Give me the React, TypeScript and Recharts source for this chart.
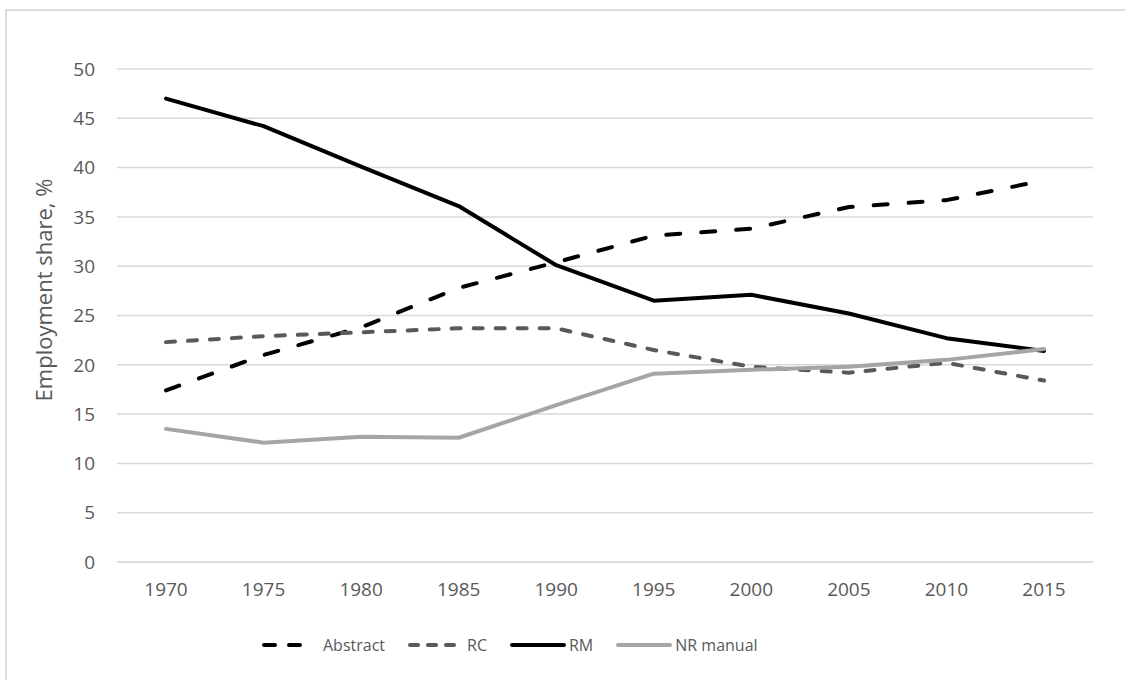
import { LineChart, Line, XAxis, YAxis, CartesianGrid } from 'recharts'

const years = ['1970', '1975', '1980', '1985', '1990', '1995', '2000', '2005', '2010', '2015']
const abstract = [17.4, 21.0, 23.8, 27.8, 30.4, 33.1, 33.8, 36.0, 36.7, 38.7]
const rc = [22.3, 22.9, 23.3, 23.7, 23.7, 21.5, 19.8, 19.2, 20.2, 18.4]
const rm = [47.0, 44.2, 40.1, 36.1, 30.1, 26.5, 27.1, 25.2, 22.7, 21.4]
const nrManual = [13.5, 12.1, 12.7, 12.6, 15.9, 19.1, 19.5, 19.8, 20.5, 21.6]
const yTicks = [0, 5, 10, 15, 20, 25, 30, 35, 40, 45, 50]

const data = years.map((year, i) => ({
  year,
  abstract: abstract[i],
  rc: rc[i],
  rm: rm[i],
  nrManual: nrManual[i],
}))

const SERIES = [
  { key: 'abstract', name: 'Abstract', color: '#000000', dash: '14 21' },
  { key: 'rc', name: 'RC', color: '#595959', dash: '9 13' },
  { key: 'rm', name: 'RM', color: '#000000', dash: undefined },
  { key: 'nrManual', name: 'NR manual', color: '#a5a5a5', dash: undefined },
]

const FONT = '"Open Sans", "Noto Sans", sans-serif'
const TEXT = '#595959'
const GRID = '#d9d9d9'

function ChartLegend() {
  return (
    <div
      style={{
        position: 'absolute',
        left: 261,
        top: 632,
        display: 'flex',
        alignItems: 'center',
        fontFamily: FONT,
        fontSize: 16,
        color: TEXT,
        whiteSpace: 'nowrap',
      }}
    >
      {SERIES.map((s, i) => (
        <div key={s.key} style={{ display: 'flex', alignItems: 'center', marginLeft: i === 0 ? 0 : 22 }}>
          <svg width={58} height={26}>
            <line
              x1={3}
              y1={13}
              x2={s.key === 'abstract' ? 44 : 55}
              y2={13}
              stroke={s.color}
              strokeWidth={4}
              strokeLinecap="round"
              strokeDasharray={s.key === 'abstract' ? '11 14' : s.dash ? '8 10' : undefined}
            />
          </svg>
          <span style={{ marginLeft: s.key === 'abstract' ? 4 : 2 }}>{s.name}</span>
        </div>
      ))}
    </div>
  )
}

export default function App() {
  return (
    <div
      style={{
        position: 'absolute',
        left: 0,
        top: 0,
        width: 1125,
        height: 680,
        overflow: 'hidden',
        background: '#ffffff',
      }}
    >
      <div
        style={{
          position: 'absolute',
          left: 5,
          top: 9,
          width: 1200,
          height: 720,
          border: '2px solid #dcdcdc',
        }}
      />
      <LineChart
        width={1125}
        height={680}
        data={data}
        margin={{ top: 69, right: 32, bottom: 88, left: 0 }}
        style={{ position: 'absolute', left: 0, top: 0 }}
      >
        <CartesianGrid vertical={false} stroke={GRID} strokeWidth={1.5} />
        <XAxis
          dataKey="year"
          height={30}
          padding={{ left: 49, right: 49 }}
          axisLine={{ stroke: GRID, strokeWidth: 1.5 }}
          tickLine={false}
          tickMargin={15}
          tick={{ fill: TEXT, fontSize: 19, fontFamily: FONT }}
        />
        <YAxis
          width={117}
          domain={[0, 50]}
          ticks={yTicks}
          interval={0}
          axisLine={false}
          tickLine={false}
          tickMargin={16}
          tick={{ fill: TEXT, fontSize: 19, fontFamily: FONT }}
          label={{
            content: () => (
              <text
                x={43}
                y={290}
                transform="rotate(-90 43 290)"
                textAnchor="middle"
                dominantBaseline="central"
                fill={TEXT}
                fontSize={22}
                fontFamily={FONT}
              >
                Employment share, %
              </text>
            ),
          }}
        />
        {SERIES.map((s) => (
          <Line
            key={s.key}
            type="linear"
            dataKey={s.key}
            name={s.name}
            stroke={s.color}
            strokeWidth={4}
            strokeDasharray={s.dash}
            strokeLinecap="round"
            strokeLinejoin="round"
            dot={false}
            activeDot={false}
            isAnimationActive={false}
          />
        ))}
      </LineChart>
      <ChartLegend />
    </div>
  )
}
